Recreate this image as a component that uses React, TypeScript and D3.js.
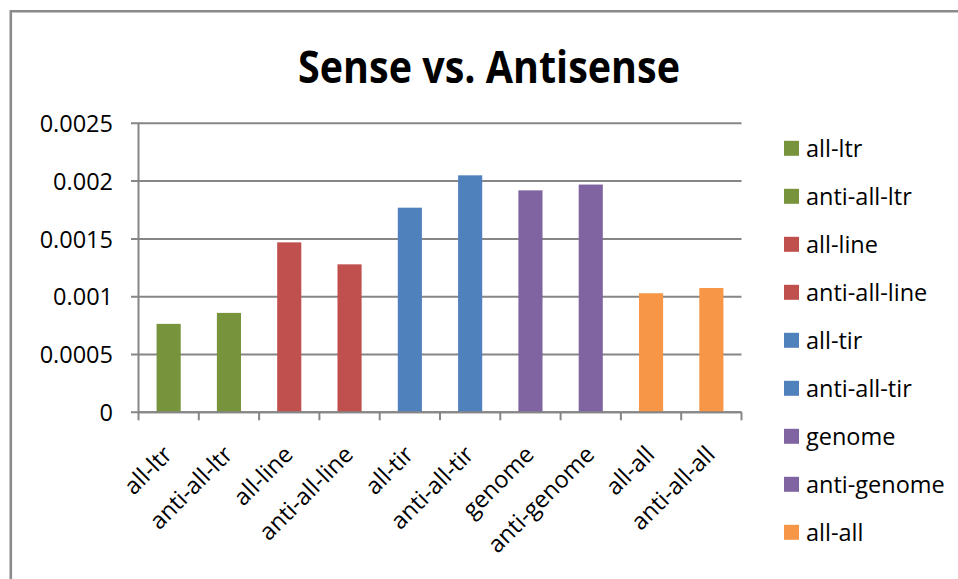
import React from "react";
import * as d3 from "d3";

// Category names along the x axis (also used for the legend)
const categories = [
  "all-ltr",
  "anti-all-ltr",
  "all-line",
  "anti-all-line",
  "all-tir",
  "anti-all-tir",
  "genome",
  "anti-genome",
  "all-all",
  "anti-all-all",
];

// Ratio for each category
const values = [
  0.000765, 0.00086, 0.00147, 0.00128, 0.00177, 0.00205, 0.00192, 0.00197,
  0.00103, 0.001075,
];

// Fill for each category (sense / antisense pairs share a colour)
const barColors = [
  "#77933C",
  "#77933C",
  "#C0504D",
  "#C0504D",
  "#4F81BD",
  "#4F81BD",
  "#8064A2",
  "#8064A2",
  "#F79646",
  "#F79646",
];

const yTicks = [0, 0.0005, 0.001, 0.0015, 0.002, 0.0025];
const yTickLabels = ["0", "0.0005", "0.001", "0.0015", "0.002", "0.0025"];

const title = "Sense vs. Antisense";

const W = 958;
const H = 579;
const FONT = '"Open Sans", "DejaVu Sans", sans-serif';
const GRID = "#868686";

export default function App() {
  const plot = { left: 138.5, right: 741.5, top: 123.3, bottom: 412.3 };

  const x = d3
    .scaleBand<string>()
    .domain(categories)
    .range([plot.left, plot.right])
    .paddingInner(0.6)
    .paddingOuter(0.3);

  const bands = d3
    .scaleBand<string>()
    .domain(categories)
    .range([plot.left, plot.right]);

  const y = d3
    .scaleLinear()
    .domain([0, 0.0025])
    .range([plot.bottom, plot.top]);

  // Legend rows; rows that would spill past the legend box are not drawn
  const legendTop = 148.3;
  const legendStep = 48;
  const legendBottom = 560;
  const legendRows = categories
    .map((c, i) => ({ c, i, cy: legendTop + i * legendStep }))
    .filter((r) => r.cy + 12 <= legendBottom);

  return (
    <svg
      width={W}
      height={H}
      viewBox={`0 0 ${W} ${H}`}
      style={{ position: "absolute", left: 0, top: 0, display: "block" }}
    >
      <rect x={0} y={0} width={W} height={H} fill="#ffffff" />

      {/* chart frame */}
      <path
        d={`M10.8,${H + 5} L10.8,11.3 L${W + 5},11.3`}
        fill="none"
        stroke="#8a8a8a"
        strokeWidth={2.6}
      />

      {/* title */}
      <text
        x={489}
        y={83.3}
        textAnchor="middle"
        fontFamily={FONT}
        fontWeight={700}
        fontSize={45}
        textLength={382}
        lengthAdjust="spacingAndGlyphs"
        fill="#000"
      >
        {title}
      </text>

      {/* horizontal gridlines and y ticks */}
      {yTicks.map((t, i) => (
        <g key={`g${i}`}>
          <line
            x1={plot.left - 7.5}
            x2={plot.right}
            y1={y(t)}
            y2={y(t)}
            stroke={GRID}
            strokeWidth={2}
          />
          <text
            x={113}
            y={y(t) + 8.7}
            textAnchor="end"
            fontFamily={FONT}
            fontSize={23.5}
            fill="#000"
          >
            {yTickLabels[i]}
          </text>
        </g>
      ))}

      {/* y axis line */}
      <line
        x1={plot.left}
        x2={plot.left}
        y1={plot.top}
        y2={plot.bottom}
        stroke={GRID}
        strokeWidth={2}
      />

      {/* bars */}
      {categories.map((c, i) => (
        <rect
          key={`b${c}`}
          x={x(c)}
          y={y(values[i])}
          width={x.bandwidth()}
          height={plot.bottom - y(values[i])}
          fill={barColors[i]}
        />
      ))}

      {/* x axis line with ticks between categories */}
      <line
        x1={plot.left}
        x2={plot.right}
        y1={plot.bottom}
        y2={plot.bottom}
        stroke={GRID}
        strokeWidth={2}
      />
      {categories.concat(["__end"]).map((c, i) => {
        const tx =
          i < categories.length ? (bands(c) as number) : plot.right;
        return (
          <line
            key={`t${i}`}
            x1={tx}
            x2={tx}
            y1={plot.bottom}
            y2={plot.bottom + 8}
            stroke={GRID}
            strokeWidth={2}
          />
        );
      })}

      {/* rotated category labels */}
      {categories.map((c) => {
        const cx = (bands(c) as number) + bands.bandwidth() / 2 + 5;
        const cy = 456;
        return (
          <text
            key={`l${c}`}
            transform={`translate(${cx},${cy}) rotate(-45)`}
            textAnchor="end"
            fontFamily={FONT}
            fontSize={23.5}
            fill="#000"
          >
            {c}
          </text>
        );
      })}

      {/* legend */}
      <g>
        {legendRows.map(({ c, i, cy }) => (
          <g key={`lg${c}`}>
            <rect
              x={784}
              y={cy - 7.5}
              width={15}
              height={15}
              fill={barColors[i]}
            />
            <text
              x={806}
              y={cy + 8.3}
              fontFamily={FONT}
              fontSize={23.5}
              fill="#000"
            >
              {c}
            </text>
          </g>
        ))}
      </g>
    </svg>
  );
}
